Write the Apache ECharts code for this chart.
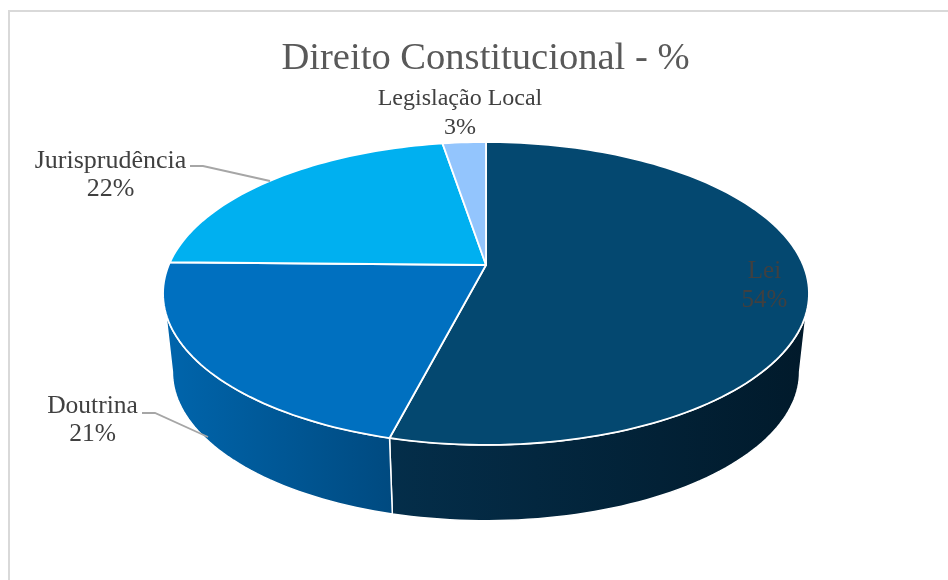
<!DOCTYPE html>
<html>
<head>
<meta charset="utf-8">
<style>html,body{margin:0;padding:0;background:#fff}#chart{width:948px;height:580px}</style>
<script src="https://cdn.jsdelivr.net/npm/echarts@6/dist/echarts.min.js"></script>
</head>
<body>
<div id="chart"></div>
<script>
var categories = ['Lei', 'Doutrina', 'Jurisprudência', 'Legislação Local'];
var shares = [54.0, 21.3, 22.1, 2.6];
var chartTitle = 'Direito Constitucional - %';

var topColors = ['#044870', '#0070C0', '#00B0F0', '#93C5FD'];
var wallLeftColors = ['#042E4A', '#0065AC', '#00A0DC', '#86B4E6'];
var wallRightColors = ['#011A2B', '#004A80', '#0080B0', '#6A90B8'];

var P = 0.188;
var topRim = {x0: 486, y0: 265, sx: 317.2, sy: 146.1};
var lowRim = {x0: 486, y0: 344, sx: 308, sy: 143.5};
var topVisible = [108, 252];
var lowVisible = [100.8, 259.2];

function project(rim, deg) {
  var a = deg * Math.PI / 180, u = Math.sin(a), v = -Math.cos(a), w = 1 - P * v;
  return [rim.x0 + rim.sx * u / w, rim.y0 + rim.sy * v / w];
}
function arc(rim, from, to) {
  var pts = [], n = Math.max(2, Math.ceil(Math.abs(to - from) / 1.5));
  for (var i = 0; i <= n; i++) pts.push(project(rim, from + (to - from) * i / n));
  return pts;
}
function total() { return shares.reduce(function (s, v) { return s + v; }, 0); }
function spans() {
  var acc = 0, t = total();
  return shares.map(function (v) {
    var s = [acc / t * 360, (acc + v) / t * 360];
    acc += v;
    return s;
  });
}
var sliceSpans = spans();

function renderWall(params, api) {
  var i = params.dataIndex, s = sliceSpans[i];
  var t0 = Math.max(s[0], topVisible[0]), t1 = Math.min(s[1], topVisible[1]);
  var l0 = Math.max(s[0], lowVisible[0]), l1 = Math.min(s[1], lowVisible[1]);
  if (t0 >= t1 && l0 >= l1) return {type: 'group', children: []};
  var pts = arc(topRim, t0, t1).concat(arc(lowRim, l1, l0));
  return {
    type: 'polygon',
    shape: {points: pts},
    style: {
      fill: {type: 'linear', x: 0, y: 0, x2: 1, y2: 0, colorStops: [
        {offset: 0, color: wallLeftColors[i]},
        {offset: 1, color: wallRightColors[i]}
      ]},
      stroke: '#ffffff', lineWidth: 1.5, lineJoin: 'round'
    }
  };
}
function renderTop(params, api) {
  var i = params.dataIndex, s = sliceSpans[i];
  var pts = [[topRim.x0, topRim.y0]].concat(arc(topRim, s[0], s[1]));
  return {
    type: 'polygon',
    shape: {points: pts},
    style: {fill: topColors[i], stroke: '#ffffff', lineWidth: 1.8, lineJoin: 'round'}
  };
}

var labelLayout = [
  {x: 764.5, y: 286, size: 25},
  {x: 92.5, y: 420.5, size: 25.5},
  {x: 110.5, y: 175, size: 26},
  {x: 460, y: 113, size: 24}
];
var leaders = [
  null,
  [[142, 413], [155, 413], [208, 437]],
  [[190, 166], [203, 166], [270, 181]],
  null
];
function renderLabel(params, api) {
  var i = params.dataIndex, p = labelLayout[i], kids = [];
  if (leaders[i]) {
    kids.push({type: 'polyline', shape: {points: leaders[i]},
      style: {fill: 'none', stroke: '#a6a6a6', lineWidth: 1.8}});
  }
  kids.push({type: 'text', x: p.x, y: p.y, style: {
    text: categories[i] + '\n' + Math.round(shares[i]) + '%',
    fill: '#404040', align: 'center', verticalAlign: 'middle',
    font: p.size + 'px "Liberation Serif", serif', lineHeight: 28.5
  }});
  return {type: 'group', children: kids};
}

var rows = shares.map(function (v, i) { return {name: categories[i], value: v}; });
var chart = echarts.init(document.getElementById('chart'), null, {renderer: 'canvas'});
chart.setOption({
  animation: false,
  backgroundColor: '#ffffff',
  title: {
    text: chartTitle, top: 34,
    left: 480.5, textAlign: 'center',
    textStyle: {color: '#595959', fontSize: 38.6, fontWeight: 'normal', fontFamily: '"Liberation Serif", serif'}
  },
  graphic: [{
    type: 'polyline', silent: true,
    shape: {points: [[9, 580], [9, 11], [948, 11]]},
    style: {fill: 'none', stroke: '#d9d9d9', lineWidth: 2}
  }],
  series: [
    {type: 'custom', coordinateSystem: 'none', renderItem: renderWall, data: rows, z: 2, silent: true},
    {type: 'custom', coordinateSystem: 'none', renderItem: renderTop, data: rows, z: 3, silent: true},
    {type: 'custom', coordinateSystem: 'none', renderItem: renderLabel, data: rows, z: 4, silent: true}
  ]
});
</script>
</body>
</html>
